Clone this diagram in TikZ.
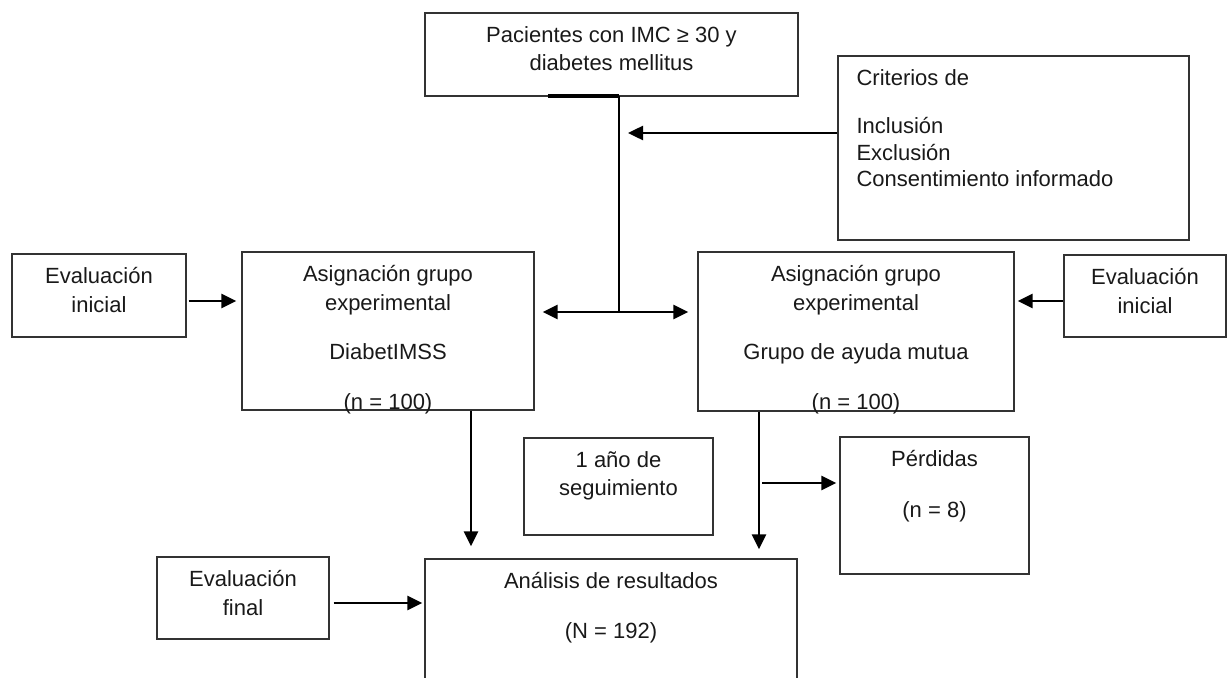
\documentclass[tikz,border=0pt]{standalone}
\usepackage{fontspec}
\setmainfont{Liberation Sans}
\usetikzlibrary{arrows.meta}

\begin{document}
\begin{tikzpicture}[x=1pt, y=-1pt,
		box/.style={draw=black!80, line width=1.3pt, rectangle, inner sep=0pt},
		boxtext/.style={inner sep=0pt, align=center, text=black!90, font=\fontsize{22}{28.5}\selectfont, execute at begin node=\rule{0pt}{22pt}},
		intop/.style={label={[boxtext, anchor=north, yshift=-14pt]north:#1}},
		link/.style={line width=2.5pt},
		arr/.style={line width=2.5pt, -{Triangle[length=15pt,width=14pt]}}]
	\useasboundingbox (0,0) rectangle (1228,677);
	\begin{scope}
		\clip (0,0) rectangle (1228,677);
		\node [box, minimum width=373, minimum height=83, intop={Pacientes con IMC ≥ 30 y\\diabetes mellitus}] (pac) at (611.5,54.5) {};
		\node [box, minimum width=351, minimum height=184,
			label={[boxtext, align=left, font=\fontsize{22}{26.5}\selectfont, anchor=north west, xshift=19pt, yshift=-14pt]north west:Criterios de\\[22pt]Inclusión\\Exclusión\\Consentimiento informado}] (crit) at (1013.5,148) {};
		\node [box, minimum width=174, minimum height=83, intop={Evaluación\\inicial}] (evL) at (99,295.5) {};
		\node [box, minimum width=292, minimum height=158, intop={Asignación grupo\\experimental\\[21pt]DiabetIMSS\\[21pt](n = 100)}] (asL) at (388,331) {};
		\node [box, minimum width=316, minimum height=159, intop={Asignación grupo\\experimental\\[21pt]Grupo de ayuda mutua\\[21pt](n = 100)}] (asR) at (856,331.5) {};
		\node [box, minimum width=162, minimum height=82, intop={Evaluación\\inicial}] (evR) at (1145,296) {};
		\node [box, minimum width=189, minimum height=97, intop={1 año de\\seguimiento}] (anio) at (618.5,486.5) {};
		\node [box, minimum width=189, minimum height=137, intop={Pérdidas\\[22pt](n = 8)}] (perd) at (934.5,505.5) {};
		\node [box, minimum width=172, minimum height=82, intop={Evaluación\\final}] (evF) at (243,598) {};
		\node [box, minimum width=372, minimum height=141, intop={Análisis de resultados\\[21pt](N = 192)}] (anal) at (611,629.5) {};

		\coordinate (split) at (619,312);
		\coordinate (bar) at (548,96);
		\coordinate (critin) at (628,133);
		\coordinate (rowA) at (0,301);
		\coordinate (rowB) at (0,603);
		\coordinate (colL) at (471,0);
		\coordinate (colR) at (759,0);
		\coordinate (lossfork) at (759,483);

		\draw [line width=4pt] (bar) -- (bar -| split);
		\draw [link] (bar -| split) -- (split);
		\draw [arr] (crit.west |- critin) -- (critin);
		\draw [arr, shorten >=8pt] (split) -- (asL.east |- split);
		\draw [arr, shorten >=9pt] (split) -- (asR.west |- split);
		\draw [arr, shorten <=2pt, shorten >=5pt] (evL.east |- rowA) -- (asL.west |- rowA);
		\draw [arr, shorten >=3pt] (evR.west |- rowA) -- (asR.east |- rowA);
		\draw [arr, shorten >=12pt] (asL.south -| colL) -- (anal.north -| colL);
		\draw [arr, shorten >=9pt] (asR.south -| colR) -- (anal.north -| colR);
		\draw [arr, shorten <=3pt, shorten >=3pt] (lossfork) -- (perd.west |- lossfork);
		\draw [arr, shorten <=4pt, shorten >=2pt] (evF.east |- rowB) -- (anal.west |- rowB);
	\end{scope}
\end{tikzpicture}
\end{document}
